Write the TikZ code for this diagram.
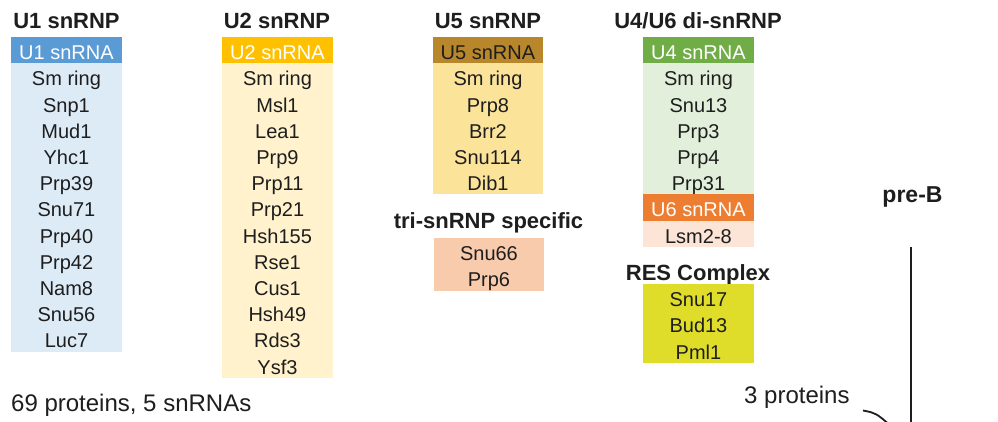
\documentclass[tikz,border=0pt]{standalone}
\usepackage{fontspec}
\setmainfont{Liberation Sans}
\definecolor{ink}{RGB}{30,30,30}
\definecolor{uoneband}{HTML}{5B9BD5}
\definecolor{uonebody}{HTML}{DDEBF7}
\definecolor{utwoband}{HTML}{FFC000}
\definecolor{utwobody}{HTML}{FFF2CC}
\definecolor{ufiveband}{HTML}{B8862B}
\definecolor{ufivebody}{HTML}{FBE49A}
\definecolor{ufourband}{HTML}{70AD47}
\definecolor{ufourbody}{HTML}{E2EFDA}
\definecolor{usixband}{HTML}{ED7D31}
\definecolor{usixbody}{HTML}{FCE4D6}
\definecolor{tribody}{HTML}{F8CBAD}
\definecolor{resbody}{HTML}{DFDD2A}
\newcommand\rowlist[4]{% prefix, x, start y, list
  \foreach \t [count=\i] in {#4} {\node[item] (#1\i) at (#2,{#3+(\i-1)*26.2}) {\t};}}
\begin{document}
\begin{tikzpicture}[x=1pt,y=-1pt,
  bg/.style={draw=none, inner sep=0pt, anchor=north west, minimum width=110.5pt},
  band/.style={bg, minimum height=26.2pt, font=\fontsize{20}{24}\selectfont, text height=17.6pt, text depth=0pt},
  item/.style={inner sep=0pt, font=\fontsize{20}{24}\selectfont, text=ink, text height=18.6pt, text depth=0pt, minimum height=26.2pt, minimum width=110.5pt, anchor=north west},
  head/.style={font=\fontsize{22}{26}\selectfont\bfseries, text=ink, anchor=base, inner sep=0pt},
  note/.style={font=\fontsize{24}{28}\selectfont, text=ink, anchor=base west, inner sep=0pt},
  link/.style={draw=ink, line width=1.8pt}]
\clip (0,0) rectangle (998,421);
\fill[white] (0,0) rectangle (998,421);
% headers
\node[head] (u1h) at (66.5,28) {U1 snRNP};
\node[head] (u2h) at (277,28) {U2 snRNP};
\node[head] (u5h) at (488,28) {U5 snRNP};
\node[head] (u46h) at (698,28) {U4/U6 di-snRNP};
% U1
\node[band, fill=uoneband, text=white] (u1rna) at (11,37) {U1 snRNA};
\node[bg, fill=uonebody, minimum height=288.2pt] (u1box) at (11,63.2) {};
\rowlist{u1r}{11}{63.2}{Sm ring,Snp1,Mud1,Yhc1,Prp39,Snu71,Prp40,Prp42,Nam8,Snu56,Luc7}
% U2
\node[band, fill=utwoband, text=white] (u2rna) at (222,37) {U2 snRNA};
\node[bg, fill=utwobody, minimum height=314.4pt] (u2box) at (222,63.2) {};
\rowlist{u2r}{222}{63.2}{Sm ring,Msl1,Lea1,Prp9,Prp11,Prp21,Hsh155,Rse1,Cus1,Hsh49,Rds3,Ysf3}
% U5
\node[band, fill=ufiveband, text=ink] (u5rna) at (432.5,37) {U5 snRNA};
\node[bg, fill=ufivebody, minimum height=131pt] (u5box) at (432.5,63.2) {};
\rowlist{u5r}{432.5}{63.2}{Sm ring,Prp8,Brr2,Snu114,Dib1}
% tri-snRNP
\node[head] (trih) at (488.5,228) {tri-snRNP specific};
\node[bg, fill=tribody, minimum height=52.4pt] (tribox) at (433.5,238) {};
\rowlist{trir}{433.5}{238}{Snu66,Prp6}
% U4/U6
\node[band, fill=ufourband, text=white] (u4rna) at (643,37) {U4 snRNA};
\node[bg, fill=ufourbody, minimum height=131pt] (u4box) at (643,63.2) {};
\rowlist{u4r}{643}{63.2}{Sm ring,Snu13,Prp3,Prp4,Prp31}
\node[band, fill=usixband, text=white] (u6rna) at (643,194.2) {U6 snRNA};
\node[bg, fill=usixbody, minimum height=26.2pt] (u6box) at (643,220.4) {};
\rowlist{u6r}{643}{220.4}{Lsm2-8}
% RES
\node[head] (resh) at (698,280) {RES Complex};
\node[bg, fill=resbody, minimum height=78.6pt] (resbox) at (643,284) {};
\rowlist{resr}{643}{284}{Snu17,Bud13,Pml1}
% notes
\node[note] (total) at (11,411) {69 proteins, 5 snRNAs};
\node[note] (three) at (744,403) {3 proteins};
\node[head, font=\fontsize{23}{27}\selectfont\bfseries] (preb) at (912.5,202) {pre-B};
\coordinate (ltop) at (911,247);
\coordinate (lbot) at (911,430);
\draw[link] (ltop) -- (lbot);
\coordinate (cstart) at (863,410.5);
\coordinate (cend) at (892,427);
\draw[link] (cstart) .. controls (876,413) .. (cend);
\end{tikzpicture}
\end{document}
